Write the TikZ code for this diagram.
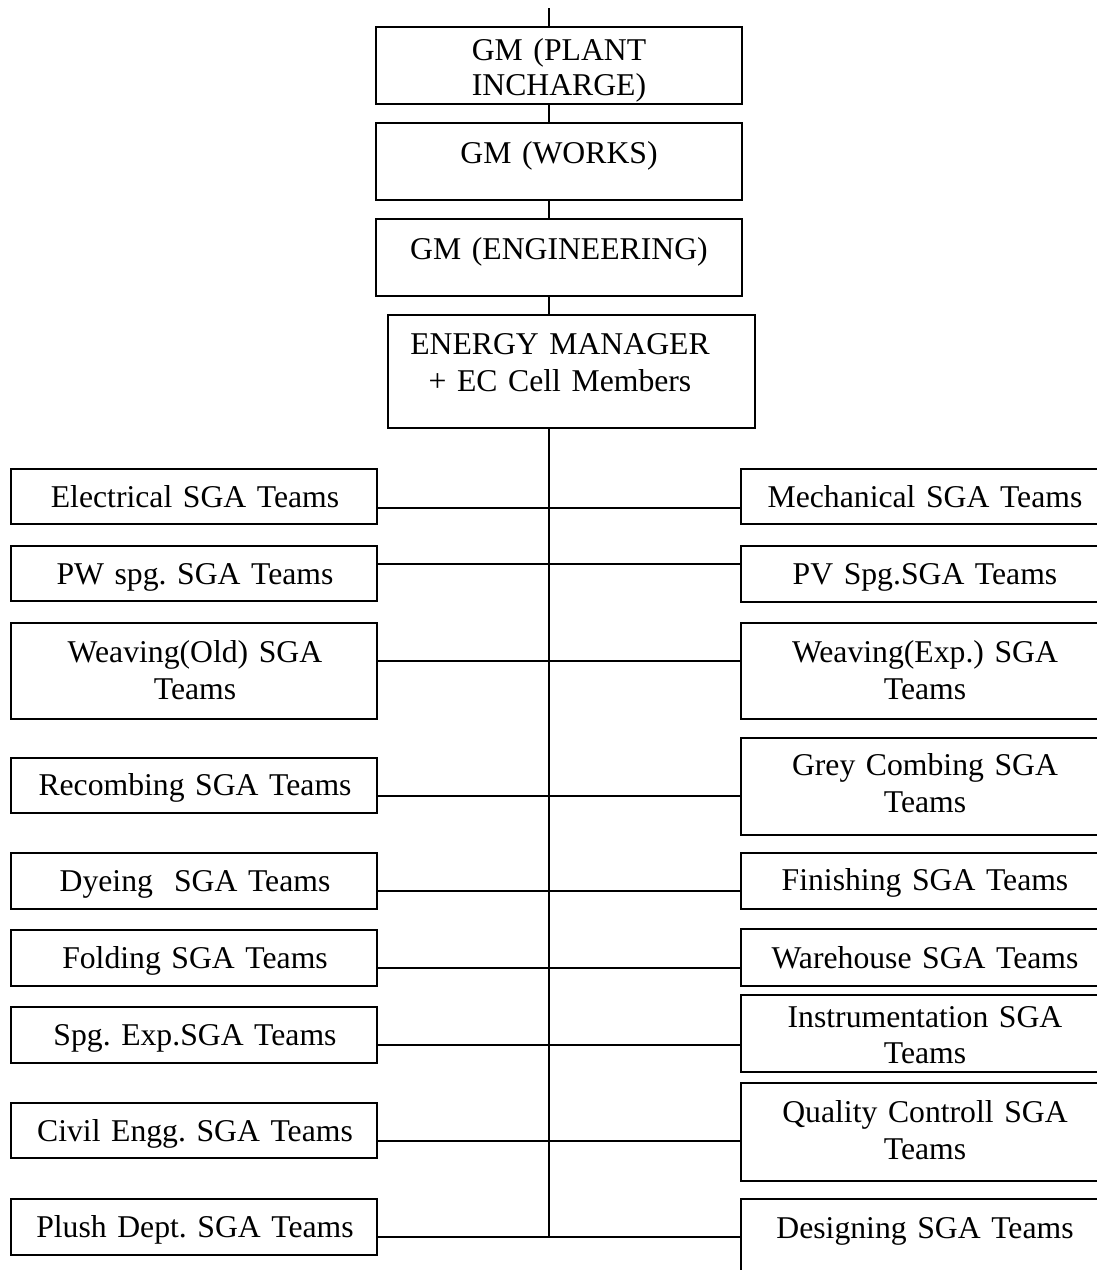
\documentclass[tikz,border=0pt]{standalone}
\usepackage{fontspec}
\setmainfont{Liberation Serif}
\frenchspacing
\begin{document}
\begin{tikzpicture}[x=1pt,y=-1pt,
  box/.style={draw, line width=1.9pt, minimum width=366pt, inner sep=0pt, outer sep=0pt},
  txt/.style={text width=366pt, align=center, anchor=base, inner sep=0pt, font=\frenchspacing\fontsize{31.7}{37}\selectfont},
  link/.style={line width=1.9pt}]
\clip (0,0) rectangle (1097,1270);
\useasboundingbox (0,0) rectangle (1097,1270);

% top chain
\node[box, minimum height=77pt] (gmp) at (559,65.5) {};
\node[box, minimum height=77pt] (gmw) at (559,161.5) {};
\node[box, minimum height=77pt] (gme) at (559,257.5) {};
\node[box, minimum width=367pt, minimum height=113pt] (em) at (571.5,371.5) {};

\node[txt, font=\fontsize{31.7}{35}\selectfont] (gmpt) at ([yshift=-33pt]gmp.north) {GM (PLANT\\INCHARGE)};
\node[txt] (gmwt) at ([yshift=-40pt]gmw.north) {GM (WORKS)};
\node[txt] (gmet) at ([yshift=-40pt]gme.north) {GM (ENGINEERING)};
\node[txt] (emt) at ([xshift=-11.5pt,yshift=-39pt]em.north) {ENERGY MANAGER\\+ EC Cell Members};

% left column
\node[box, minimum height=55pt] (L1) at (194,496.5) {};
\node[box, minimum height=55pt] (L2) at (194,573.5) {};
\node[box, minimum height=96pt] (L3) at (194,671) {};
\node[box, minimum height=55pt] (L4) at (194,785.5) {};
\node[box, minimum height=56pt] (L5) at (194,881) {};
\node[box, minimum height=56pt] (L6) at (194,958) {};
\node[box, minimum height=56pt] (L7) at (194,1035) {};
\node[box, minimum height=55pt] (L8) at (194,1130.5) {};
\node[box, minimum height=56pt] (L9) at (194,1227) {};

\node[txt] (L1t) at ([xshift=1pt,yshift=-38pt]L1.north) {Electrical SGA Teams};
\node[txt] (L2t) at ([xshift=1pt,yshift=-38pt]L2.north) {PW spg. SGA Teams};
\node[txt] (L3t) at ([xshift=1pt,yshift=-39pt]L3.north) {Weaving(Old) SGA\\Teams};
\node[txt] (L4t) at ([xshift=1pt,yshift=-37pt]L4.north) {Recombing SGA Teams};
\node[txt] (L5t) at ([xshift=1pt,yshift=-38pt]L5.north) {Dyeing~ SGA Teams};
\node[txt] (L6t) at ([xshift=1pt,yshift=-38pt]L6.north) {Folding SGA Teams};
\node[txt] (L7t) at ([xshift=1pt,yshift=-38pt]L7.north) {Spg. Exp.SGA Teams};
\node[txt] (L8t) at ([xshift=1pt,yshift=-38pt]L8.north) {Civil Engg. SGA Teams};
\node[txt] (L9t) at ([xshift=1pt,yshift=-38pt]L9.north) {Plush Dept. SGA Teams};

% right column
\node[box, minimum height=55pt] (R1) at (924,496.5) {};
\node[box, minimum height=56pt] (R2) at (924,574) {};
\node[box, minimum height=96pt] (R3) at (924,671) {};
\node[box, minimum height=97pt] (R4) at (924,786.5) {};
\node[box, minimum height=56pt] (R5) at (924,881) {};
\node[box, minimum height=57pt] (R6) at (924,957.5) {};
\node[box, line width=2.6pt, minimum height=77pt] (R7) at (924,1033.5) {};
\node[box, minimum height=98pt] (R8) at (924,1132) {};
\node[box, minimum height=100pt] (R9) at (924,1249) {};

\node[txt] (R1t) at ([xshift=1pt,yshift=-38pt]R1.north) {Mechanical SGA Teams};
\node[txt] (R2t) at ([xshift=1pt,yshift=-38pt]R2.north) {PV Spg.SGA Teams};
\node[txt] (R3t) at ([xshift=1pt,yshift=-39pt]R3.north) {Weaving(Exp.) SGA\\Teams};
\node[txt] (R4t) at ([xshift=1pt,yshift=-37pt]R4.north) {Grey Combing SGA\\Teams};
\node[txt] (R5t) at ([xshift=1pt,yshift=-37pt]R5.north) {Finishing SGA Teams};
\node[txt] (R6t) at ([xshift=1pt,yshift=-39pt]R6.north) {Warehouse SGA Teams};
\node[txt, font=\frenchspacing\fontsize{31.7}{36}\selectfont] (R7t) at ([xshift=1pt,yshift=-32pt]R7.north) {Instrumentation SGA\\Teams};
\node[txt] (R8t) at ([xshift=1pt,yshift=-39pt]R8.north) {Quality Controll SGA\\Teams};
\node[txt] (R9t) at ([xshift=1pt,yshift=-39pt]R9.north) {Designing SGA Teams};

% spine
\coordinate (top) at (549,8);
\coordinate (r1) at (549,508);
\coordinate (r2) at (549,564);
\coordinate (r3) at (549,661);
\coordinate (r4) at (549,796);
\coordinate (r5) at (549,891);
\coordinate (r6) at (549,968);
\coordinate (r7) at (549,1045);
\coordinate (r8) at (549,1141);
\coordinate (r9) at (549,1237);

\draw[link] (top) -- (top |- gmp.north);
\draw[link] (top |- gmp.south) -- (top |- gmw.north);
\draw[link] (top |- gmw.south) -- (top |- gme.north);
\draw[link] (top |- gme.south) -- (top |- em.north);
\draw[link] (top |- em.south) -- (r9);

\foreach \i in {1,...,9} {
  \draw[link] (L\i.east |- r\i) -- (R\i.west |- r\i);
}
\end{tikzpicture}
\end{document}
